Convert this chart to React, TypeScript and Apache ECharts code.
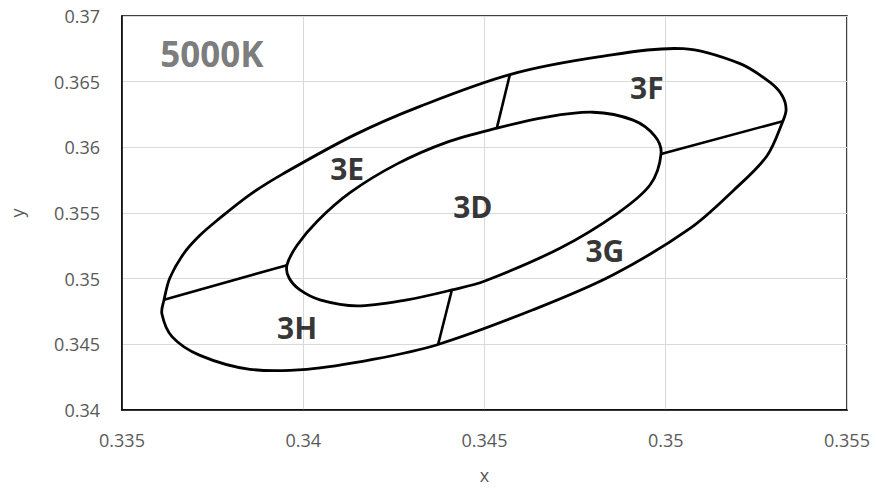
import React, { useEffect, useRef } from "react";
import * as echarts from "echarts";

// Outer boundary (quadrangles 3E/3F/3G/3H), clockwise from the 3E/3F divider (closed curve)
const outerX = [0.3457, 0.34819, 0.35048, 0.35205, 0.35288, 0.35321, 0.35332, 0.35323, 0.35279, 0.35186, 0.35067, 0.34854, 0.34634, 0.34372, 0.34192, 0.3401, 0.33853, 0.33715, 0.33638, 0.3361, 0.33616, 0.33632, 0.33671, 0.33715, 0.33762, 0.33853, 0.33944, 0.3414, 0.34322];
const outerY = [0.36554, 0.3669, 0.36751, 0.36637, 0.36494, 0.36395, 0.3629, 0.36199, 0.35934, 0.3567, 0.35383, 0.35028, 0.34763, 0.34499, 0.34385, 0.3431, 0.3431, 0.34416, 0.34559, 0.34733, 0.34839, 0.35005, 0.35194, 0.3533, 0.35443, 0.3564, 0.35798, 0.36093, 0.36312];

// Inner boundary (quadrangle 3D), clockwise from the 3E/3F divider (closed curve)
const innerX = [0.34534, 0.34667, 0.34799, 0.3491, 0.3497, 0.34987, 0.34957, 0.34866, 0.34708, 0.34501, 0.3441, 0.34286, 0.34148, 0.34046, 0.33991, 0.33961, 0.33955, 0.33983, 0.34038, 0.34129, 0.34259, 0.34397];
const innerY = [0.36146, 0.36229, 0.36267, 0.36207, 0.36086, 0.3595, 0.35715, 0.35496, 0.35232, 0.34982, 0.34914, 0.34839, 0.34793, 0.34839, 0.34914, 0.35005, 0.35103, 0.35254, 0.35436, 0.35655, 0.35874, 0.3604];

// Dividers between the outer quadrangles (outer end -> inner end)
const dividerOuterX = [0.3457, 0.35323, 0.34372, 0.33616];
const dividerOuterY = [0.36554, 0.36199, 0.34499, 0.34839];
const dividerInnerX = [0.34534, 0.34987, 0.3441, 0.33955];
const dividerInnerY = [0.36146, 0.3595, 0.34914, 0.35103];

// Region labels
const regionNames = ["3D", "3E", "3F", "3G", "3H"];
const regionX = [0.34468, 0.34121, 0.34948, 0.34832, 0.33983];
const regionY = [0.35549, 0.35836, 0.36456, 0.35217, 0.34627];

const titleText = "5000K";
const titleX = 0.33748;
const titleY = 0.36713;

const xMin = 0.335;
const xMax = 0.355;
const yMin = 0.34;
const yMax = 0.37;
const tickStep = 0.005;

const FONT = "'Open Sans', 'Noto Sans', sans-serif";
const GRAY = "#595959";

// Smooth closed curve through pixel points (chord-length Hermite -> cubic Bezier)
function closedSplinePath(pts: number[][]): string {
  const n = pts.length;
  const dist = (a: number[], b: number[]) => Math.hypot(b[0] - a[0], b[1] - a[1]);
  const tangents = pts.map((p, i) => {
    const a = pts[(i - 1 + n) % n];
    const b = pts[(i + 1) % n];
    const L = dist(a, p) + dist(p, b) || 1;
    return [(b[0] - a[0]) / L, (b[1] - a[1]) / L];
  });
  let s = `M${pts[0][0]},${pts[0][1]}`;
  for (let i = 0; i < n; i++) {
    const p = pts[i];
    const q = pts[(i + 1) % n];
    const len = dist(p, q);
    const t0 = tangents[i];
    const t1 = tangents[(i + 1) % n];
    s += ` C${p[0] + (t0[0] * len) / 3},${p[1] + (t0[1] * len) / 3} ${q[0] - (t1[0] * len) / 3},${q[1] - (t1[1] * len) / 3} ${q[0]},${q[1]}`;
  }
  return s + " Z";
}

function ellipseSeries(name: string, xs: number[], ys: number[]) {
  return {
    type: "custom",
    name,
    data: [[xs[0], ys[0]]],
    silent: true,
    clip: false,
    renderItem: (_params: any, api: any) => {
      const pts = xs.map((x, i) => api.coord([x, ys[i]]));
      return {
        type: "path",
        shape: { pathData: closedSplinePath(pts) },
        style: { fill: "none", stroke: "#000", lineWidth: 2.8 },
      };
    },
  };
}

export default function App() {
  const ref = useRef<HTMLDivElement>(null);

  useEffect(() => {
    if (!ref.current) return;
    const chart = echarts.init(ref.current, undefined, { renderer: "svg" });

    const dividerSeries = dividerOuterX.map((x, i) => ({
      type: "line",
      data: [
        [x, dividerOuterY[i]],
        [dividerInnerX[i], dividerInnerY[i]],
      ],
      showSymbol: false,
      symbol: "none",
      lineStyle: { color: "#000", width: 2.6 },
      silent: true,
    }));

    const labelData: any[] = regionNames.map((n, i) => ({
      name: n,
      value: [regionX[i], regionY[i]],
      label: {
        show: true,
        position: "inside",
        formatter: n,
        color: "#000",
        fontSize: 30,
        fontWeight: "bold",
        fontFamily: FONT,
      },
    }));
    labelData.push({
      name: titleText,
      value: [titleX, titleY],
      label: {
        show: true,
        position: "inside",
        formatter: titleText,
        color: GRAY,
        fontSize: 35,
        fontWeight: "bold",
        fontFamily: FONT,
      },
    });

    chart.setOption({
      animation: false,
      backgroundColor: "#fff",
      textStyle: { fontFamily: FONT },
      grid: {
        left: 122,
        right: 30,
        top: 16,
        bottom: 76,
        show: true,
        borderColor: "#000",
        borderWidth: 1.5,
        containLabel: false,
      },
      xAxis: {
        type: "value",
        min: xMin,
        max: xMax,
        interval: tickStep,
        name: "x",
        nameLocation: "middle",
        nameGap: 56,
        nameTextStyle: { color: GRAY, fontSize: 18, fontFamily: FONT },
        axisLine: { show: true, lineStyle: { color: "#000", width: 1.5 } },
        axisTick: { show: false },
        axisLabel: { color: GRAY, fontSize: 18, margin: 21, fontFamily: FONT },
        splitLine: { show: true, lineStyle: { color: "#d9d9d9", width: 1 } },
      },
      yAxis: {
        type: "value",
        min: yMin,
        max: yMax,
        interval: tickStep,
        name: "y",
        nameLocation: "middle",
        nameGap: 96,
        nameTextStyle: { color: GRAY, fontSize: 18, fontFamily: FONT },
        axisLine: { show: true, lineStyle: { color: "#000", width: 1.5 } },
        axisTick: { show: false },
        axisLabel: { color: GRAY, fontSize: 18, margin: 22, fontFamily: FONT },
        splitLine: { show: true, lineStyle: { color: "#d9d9d9", width: 1 } },
      },
      series: [
        ellipseSeries("outer", outerX, outerY),
        ellipseSeries("inner", innerX, innerY),
        ...dividerSeries,
        {
          type: "scatter",
          name: "labels",
          data: labelData,
          symbolSize: 0,
          silent: true,
        },
      ],
    });

    return () => {
      chart.dispose();
    };
  }, []);

  return (
    <div
      ref={ref}
      style={{ position: "fixed", left: 0, top: 0, width: 877, height: 489 }}
    />
  );
}
